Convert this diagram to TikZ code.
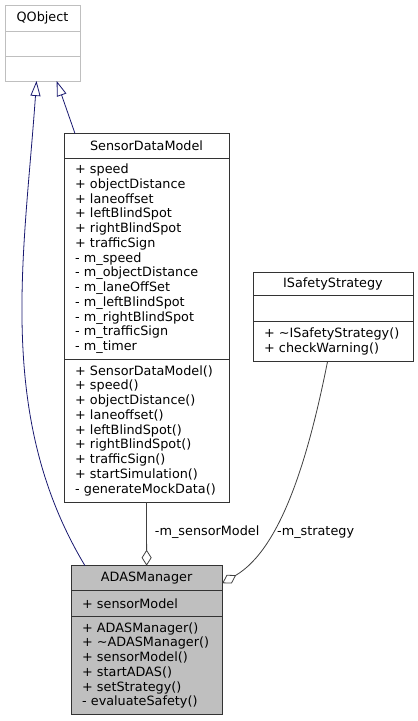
\documentclass[tikz,border=0pt]{standalone}
\usepackage{fontspec}
\newfontfamily\doxfont{DejaVu Sans}
\usepackage{tikz}
\usetikzlibrary{arrows.meta, positioning}
\definecolor{edgeblue}{HTML}{191970}
\definecolor{edgegray}{HTML}{404040}
\definecolor{boxfill}{HTML}{BFBFBF}

\begin{document}
\begin{tikzpicture}[
    x=1pt, y=-1pt,
    font=\doxfont\fontsize{12.8}{14.75}\selectfont,
    clsbox/.style={draw=black!80, line width=0.8pt, fill=white, inner sep=0pt, outer sep=0pt},
    ttl/.style={clsbox, align=center},
    membox/.style={clsbox, inner xsep=11pt, align=left},
    inh/.style={edgeblue, line width=0.8pt, -{Triangle[open, length=15pt, width=10pt]}},
    comp/.style={edgegray, line width=0.8pt, -{Diamond[open, length=16pt, width=10pt]}},
    lbl/.style={inner sep=0pt, text=black},
]
  \useasboundingbox (0,0) rectangle (418,721);

  % ---- QObject ----
  \node[ttl, draw=black!25, minimum width=75pt, minimum height=26pt,
        anchor=north west] (qoT) at (5,5) {QObject};
  \node[membox, draw=black!25, text width=53pt, minimum height=25pt,
        below=0pt of qoT] (qoA) {};
  \node[membox, draw=black!25, text width=53pt, minimum height=25pt,
        below=0pt of qoA] (qoM) {};

  % ---- SensorDataModel ----
  \node[ttl, minimum width=165pt, minimum height=25pt,
        anchor=north west] (sdmT) at (64,133.5) {SensorDataModel};
  \node[membox, text width=143pt, minimum height=200.5pt, below=0pt of sdmT] (sdmA)
    {+ speed\\+ objectDistance\\+ laneoffset\\+ leftBlindSpot\\+ rightBlindSpot\\
     + trafficSign\\- m\_speed\\- m\_objectDistance\\- m\_laneOffSet\\
     - m\_leftBlindSpot\\- m\_rightBlindSpot\\- m\_trafficSign\\- m\_timer};
  \node[membox, text width=143pt, minimum height=143pt, below=0pt of sdmA] (sdmM)
    {+ SensorDataModel()\\+ speed()\\+ objectDistance()\\+ laneoffset()\\
     + leftBlindSpot()\\+ rightBlindSpot()\\+ trafficSign()\\
     + startSimulation()\\- generateMockData()};

  % ---- ISafetyStrategy ----
  \node[ttl, minimum width=160pt, minimum height=22.7pt,
        anchor=north west] (isT) at (253,272.3) {ISafetyStrategy};
  \node[membox, text width=138pt, minimum height=26.7pt, below=0pt of isT] (isA) {};
  \node[membox, text width=138pt, minimum height=40pt, below=0pt of isA] (isM)
    {+ \textasciitilde ISafetyStrategy()\\+ checkWarning()};

  % ---- ADASManager ----
  \node[ttl, fill=boxfill, minimum width=151.3pt, minimum height=25pt,
        anchor=north west] (adasT) at (71,565.7) {ADASManager};
  \node[membox, fill=boxfill, text width=129.3pt, minimum height=26pt,
        below=0pt of adasT] (adasA) {+ sensorModel};
  \node[membox, fill=boxfill, text width=129.3pt, minimum height=97.3pt,
        below=0pt of adasA] (adasM)
    {+ ADASManager()\\+ \textasciitilde ADASManager()\\+ sensorModel()\\
     + startADAS()\\+ setStrategy()\\- evaluateSafety()};

  % ---- Inheritance ----
  \draw[inh] ([xshift=14pt]adasT.north west)
    .. controls (-5,416) and (24.4,255) .. ([xshift=-6pt]qoM.south);
  \draw[inh] ([xshift=11pt]sdmT.north west) -- ([xshift=14.2pt]qoM.south);

  % ---- Composition ----
  \draw[comp] (sdmM.south) -- node[lbl, right=8pt, pos=0.47] (lblSensor)
    {-m\_sensorModel} (adasT.north);
  \draw[comp] ([xshift=-5.5pt]isM.south)
    .. controls (309.5,452) and (282.5,548) .. ([yshift=-5pt]adasT.east);
  \node[lbl, anchor=west] (lblStrategy) at (277,533) {-m\_strategy};

\end{tikzpicture}
\end{document}
